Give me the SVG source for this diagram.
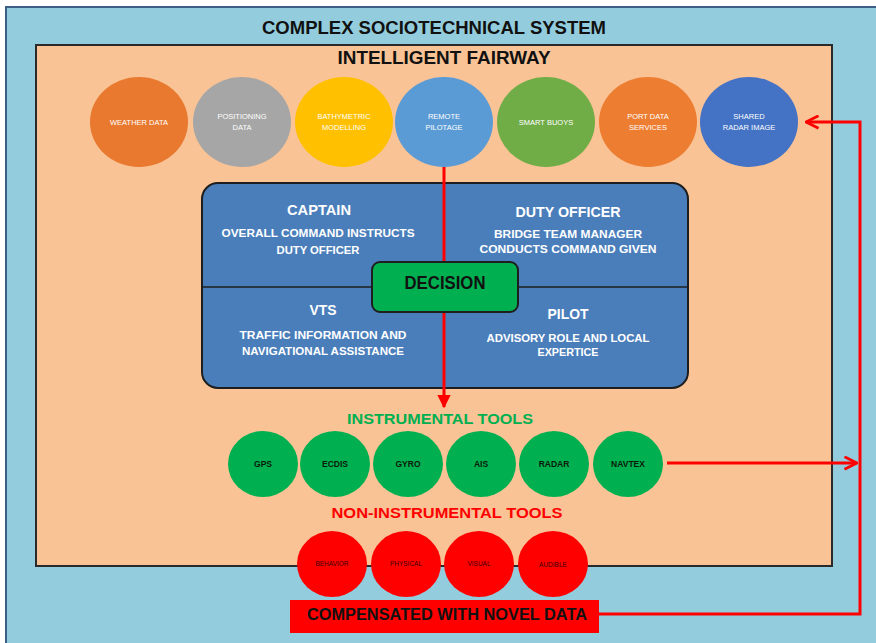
<svg xmlns="http://www.w3.org/2000/svg" width="876" height="643" viewBox="0 0 876 643">
<defs>
<marker id="tri" viewBox="0 0 10 10" refX="9" refY="5" markerWidth="4.5" markerHeight="4.5" orient="auto" markerUnits="strokeWidth"><path d="M0,0 L10,5 L0,10 z" fill="#ff0000"/></marker>
<marker id="chev" viewBox="0 0 12 12" refX="11" refY="6" markerWidth="5" markerHeight="5" orient="auto" markerUnits="strokeWidth"><path d="M1,1 L11,6 L1,11" fill="none" stroke="#ff0000" stroke-width="2.2"/></marker>
<style>
text{font-family:"Liberation Sans","Open Sans",Arial,sans-serif;font-weight:bold;text-anchor:middle}
.h1{font-size:18px;fill:#111}
.rt{font-size:14px;fill:#fff}
.rb{font-size:10.5px;fill:#fff}
.ct{font-size:7.5px;fill:#fff;font-weight:normal}
.gt{font-size:8.5px;fill:#0a1a0a}
.nt{font-size:6.5px;fill:#3a0000;font-weight:normal}
.conn{stroke:#ff0000;stroke-width:3;fill:none}
</style>
</defs>
<rect x="0" y="0" width="876" height="643" fill="#ffffff"/>
<g id="system">
<rect x="6" y="7" width="880" height="650" fill="#93cddd" stroke="#3d5f86" stroke-width="2"/>
<text class="h1" x="434" y="34" textLength="344" lengthAdjust="spacingAndGlyphs">COMPLEX SOCIOTECHNICAL SYSTEM</text>
</g>
<g id="fairway">
<rect x="36" y="45" width="796" height="521" fill="#f9c395" stroke="#2a2a2a" stroke-width="2"/>
<text class="h1" x="444" y="64" textLength="213" lengthAdjust="spacingAndGlyphs">INTELLIGENT FAIRWAY</text>
</g>
<g id="weather"><ellipse cx="139" cy="122" rx="49" ry="45" fill="#e8792f"/><text class="ct" x="139" y="125">WEATHER DATA</text></g>
<g id="positioning"><ellipse cx="242" cy="122" rx="49" ry="45" fill="#a6a6a6"/><text class="ct" x="242" y="119">POSITIONING</text><text class="ct" x="242" y="130">DATA</text></g>
<g id="bathymetric"><ellipse cx="344" cy="122" rx="49" ry="45" fill="#ffc000"/><text class="ct" x="344" y="119">BATHYMETRIC</text><text class="ct" x="344" y="130">MODELLING</text></g>
<g id="remote"><ellipse cx="444" cy="122" rx="49" ry="45" fill="#5b9bd5"/><text class="ct" x="444" y="119">REMOTE</text><text class="ct" x="444" y="130">PILOTAGE</text></g>
<g id="buoys"><ellipse cx="546" cy="122" rx="49" ry="45" fill="#70ad47"/><text class="ct" x="546" y="125">SMART BUOYS</text></g>
<g id="port"><ellipse cx="648" cy="122" rx="49" ry="45" fill="#ed7d31"/><text class="ct" x="648" y="119">PORT DATA</text><text class="ct" x="648" y="130">SERVICES</text></g>
<g id="radar-image"><ellipse cx="749" cy="122" rx="49" ry="45" fill="#4472c4"/><text class="ct" x="749" y="119">SHARED</text><text class="ct" x="749" y="130">RADAR IMAGE</text></g>
<g id="roles">
<rect x="202" y="183" width="486" height="205" rx="16" fill="#4a7ebb" stroke="#1e1e1e" stroke-width="2"/>
<line x1="202" y1="287" x2="688" y2="287" stroke="#1e1e1e" stroke-width="1.5"/>
</g>
<g id="captain"><text class="rt" x="319" y="215" textLength="64" lengthAdjust="spacingAndGlyphs">CAPTAIN</text><text class="rb" x="318" y="237" textLength="193" lengthAdjust="spacingAndGlyphs">OVERALL COMMAND INSTRUCTS</text><text class="rb" x="318" y="254" textLength="83" lengthAdjust="spacingAndGlyphs">DUTY OFFICER</text></g>
<g id="duty-officer"><text class="rt" x="568" y="217" textLength="105" lengthAdjust="spacingAndGlyphs">DUTY OFFICER</text><text class="rb" x="568" y="238" textLength="148" lengthAdjust="spacingAndGlyphs">BRIDGE TEAM MANAGER</text><text class="rb" x="568" y="253" textLength="177" lengthAdjust="spacingAndGlyphs">CONDUCTS COMMAND GIVEN</text></g>
<g id="vts"><text class="rt" x="323" y="315" textLength="27" lengthAdjust="spacingAndGlyphs">VTS</text><text class="rb" x="323" y="339" textLength="167" lengthAdjust="spacingAndGlyphs">TRAFFIC INFORMATION AND</text><text class="rb" x="323" y="355" textLength="162" lengthAdjust="spacingAndGlyphs">NAVIGATIONAL ASSISTANCE</text></g>
<g id="pilot"><text class="rt" x="568" y="319" textLength="41" lengthAdjust="spacingAndGlyphs">PILOT</text><text class="rb" x="568" y="342" textLength="163" lengthAdjust="spacingAndGlyphs">ADVISORY ROLE AND LOCAL</text><text class="rb" x="568" y="356" textLength="61" lengthAdjust="spacingAndGlyphs">EXPERTICE</text></g>
<g id="connectors">
<line class="conn" x1="444" y1="167" x2="444" y2="407" marker-end="url(#tri)"/>
<line class="conn" x1="667" y1="463" x2="857" y2="463" marker-end="url(#chev)"/>
<polyline class="conn" points="599,614 860,614 860,122 806,122" marker-end="url(#chev)"/>
</g>
<g id="decision"><rect x="372" y="262" width="146" height="50" rx="8" fill="#00b050" stroke="#1e1e1e" stroke-width="2"/><text x="445" y="289" style="font-size:18px;fill:#111" textLength="81" lengthAdjust="spacingAndGlyphs">DECISION</text></g>
<g id="instrumental-title"><text x="440" y="424" style="font-size:14px;fill:#00b050" textLength="186" lengthAdjust="spacingAndGlyphs">INSTRUMENTAL TOOLS</text></g>
<g id="gps"><ellipse cx="263" cy="464" rx="35" ry="33" fill="#00b050"/><text class="gt" x="263" y="467">GPS</text></g>
<g id="ecdis"><ellipse cx="335" cy="464" rx="35" ry="33" fill="#00b050"/><text class="gt" x="335" y="467">ECDIS</text></g>
<g id="gyro"><ellipse cx="408" cy="464" rx="35" ry="33" fill="#00b050"/><text class="gt" x="408" y="467">GYRO</text></g>
<g id="ais"><ellipse cx="481" cy="464" rx="35" ry="33" fill="#00b050"/><text class="gt" x="481" y="467">AIS</text></g>
<g id="radar"><ellipse cx="554" cy="464" rx="35" ry="33" fill="#00b050"/><text class="gt" x="554" y="467">RADAR</text></g>
<g id="navtex"><ellipse cx="628" cy="464" rx="35" ry="33" fill="#00b050"/><text class="gt" x="628" y="467">NAVTEX</text></g>
<g id="non-instrumental-title"><text x="447" y="518" style="font-size:14px;fill:#ff0000" textLength="231" lengthAdjust="spacingAndGlyphs">NON-INSTRUMENTAL TOOLS</text></g>
<g id="behavior"><ellipse cx="332" cy="564" rx="35" ry="33" fill="#ff0000"/><text class="nt" x="332" y="566">BEHAVIOR</text></g>
<g id="physical"><ellipse cx="406" cy="564" rx="35" ry="33" fill="#ff0000"/><text class="nt" x="406" y="566">PHYSICAL</text></g>
<g id="visual"><ellipse cx="479" cy="564" rx="35" ry="33" fill="#ff0000"/><text class="nt" x="479" y="566">VISUAL</text></g>
<g id="audible"><ellipse cx="553" cy="564" rx="35" ry="33" fill="#ff0000"/><text class="nt" x="553" y="567">AUDIBLE</text></g>
<g id="compensated"><rect x="290" y="600" width="309" height="33" fill="#ff0000"/><text x="447" y="620" style="font-size:16px;fill:#111" textLength="280" lengthAdjust="spacingAndGlyphs">COMPENSATED WITH NOVEL DATA</text></g>
</svg>
